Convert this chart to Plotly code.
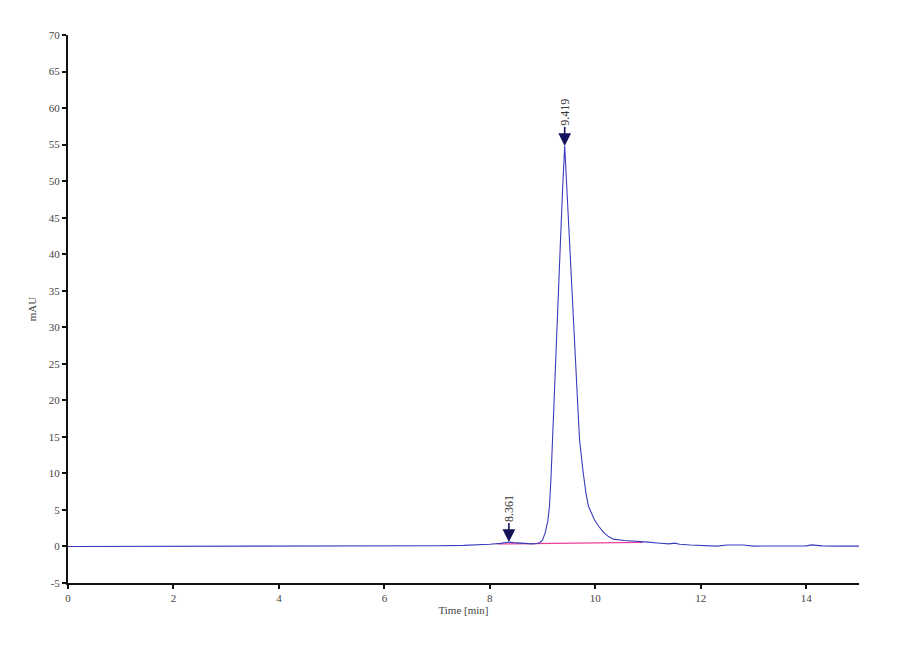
import plotly.graph_objects as go

# chromatogram trace (time in min, signal in mAU)
time_min = [0.0, 1.0, 2.0, 3.0, 4.0, 5.0, 6.0, 6.5, 7.0, 7.5, 7.8, 8.0, 8.2, 8.3,
            8.36, 8.45, 8.6, 8.8, 8.9, 8.95, 9.0, 9.05, 9.1, 9.13, 9.16, 9.19,
            9.23, 9.27, 9.3, 9.34, 9.38, 9.419, 9.46, 9.51, 9.55, 9.6, 9.65, 9.7,
            9.77, 9.82, 9.87, 9.93, 9.98, 10.06, 10.16, 10.25, 10.34, 10.55, 10.8,
            11.0, 11.23, 11.4, 11.5, 11.6, 11.8, 12.0, 12.3, 12.5, 12.8, 13.0,
            13.5, 14.0, 14.1, 14.3, 14.6, 15.0]
signal_mau = [0.0, 0.0, 0.0, 0.0, 0.0, 0.02, 0.05, 0.07, 0.1, 0.15, 0.22, 0.3, 0.42,
              0.5, 0.6, 0.52, 0.42, 0.36, 0.4, 0.55, 0.9, 1.9, 3.5, 5.5, 9.5, 14.6,
              21.0, 28.3, 35.0, 42.0, 49.0, 54.8, 49.0, 42.0, 35.0, 28.3, 21.0, 14.6,
              10.1, 7.4, 5.5, 4.4, 3.7, 2.8, 1.9, 1.35, 1.0, 0.82, 0.73,
              0.6, 0.45, 0.35, 0.45, 0.3, 0.2, 0.1, 0.05, 0.2, 0.2, 0.05,
              0.05, 0.08, 0.22, 0.08, 0.05, 0.05]

# integration baseline (pink)
base_time = [8.15, 10.9]
base_mau = [0.35, 0.55]

# labelled peaks
peak_times = [8.361, 9.419]
peak_heights = [0.6, 54.8]
peak_labels = ["8.361", "9.419"]

y_ticks = [-5, 0, 5, 10, 15, 20, 25, 30, 35, 40, 45, 50, 55, 60, 65, 70]
y_tick_text = ["-5", "0", "5", "10", "15", "20", "25", "30", "35", "40", "45",
               "50", "55", "60", "65", "70"]
x_ticks = [0, 2, 4, 6, 8, 10, 12, 14]

font_family = "Liberation Serif, Times New Roman, serif"

fig = go.Figure()
fig.add_trace(go.Scatter(x=base_time, y=base_mau, mode="lines",
                         line=dict(color="#e8409a", width=1.2), hoverinfo="skip"))
fig.add_trace(go.Scatter(x=time_min, y=signal_mau, mode="lines",
                         line=dict(color="#3b3bbf", width=1.1)))

for t, h, lab in zip(peak_times, peak_heights, peak_labels):
    fig.add_annotation(x=t, y=h, text=lab, textangle=-90, showarrow=True,
                       ax=0, ay=-34, arrowhead=2, arrowsize=1.6, arrowwidth=1.6,
                       arrowcolor="#14145a", standoff=0,
                       font=dict(family=font_family, size=12, color="#333"))

fig.update_layout(
    width=900, height=660,
    margin=dict(l=60, r=49, t=27, b=85),
    paper_bgcolor="white", plot_bgcolor="white",
    showlegend=False,
    font=dict(family=font_family, size=11, color="#444"),
)
fig.update_xaxes(range=[0, 15], tickvals=x_ticks,
                 showgrid=False, zeroline=False, showline=True, linecolor="#111",
                 linewidth=2, ticks="outside", ticklen=4, tickwidth=1.5, tickcolor="#111",
                 title=dict(text="Time [min]", standoff=2, font=dict(size=11)))
fig.update_yaxes(range=[-5, 70], tickvals=y_ticks, ticktext=y_tick_text,
                 showgrid=False, zeroline=False, showline=True, linecolor="#111",
                 linewidth=2, ticks="outside", ticklen=4, tickwidth=1.5, tickcolor="#111",
                 ticklabelstandoff=0,
                 title=dict(text="mAU", standoff=10, font=dict(size=11)))

fig.write_html("out.html")
